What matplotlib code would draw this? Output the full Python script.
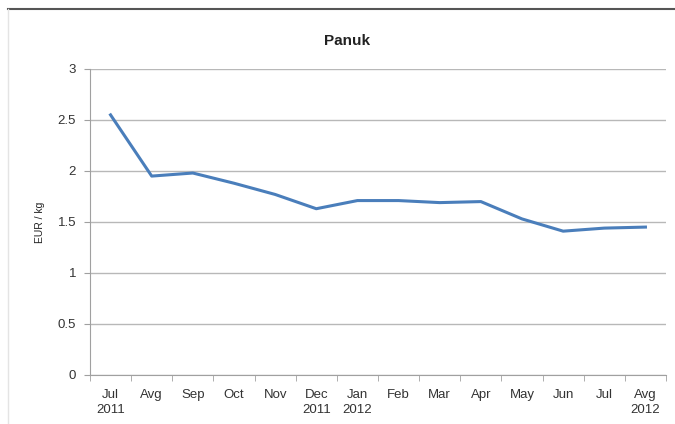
import numpy as np
import matplotlib
matplotlib.use("Agg")
import matplotlib.pyplot as plt
from matplotlib.lines import Line2D

# data
months = ["Jul\n2011", "Avg", "Sep", "Oct", "Nov", "Dec\n2011", "Jan\n2012",
          "Feb", "Mar", "Apr", "May", "Jun", "Jul", "Avg\n2012"]
price = [2.55, 1.95, 1.98, 1.88, 1.77, 1.63, 1.71,
         1.71, 1.69, 1.70, 1.53, 1.41, 1.44, 1.45]
yticks = [0, 0.5, 1, 1.5, 2, 2.5, 3]
ytick_labels = ["0", "0.5", "1", "1.5", "2", "2.5", "3"]

plt.rcParams['font.family'] = ['Liberation Sans', 'DejaVu Sans']

fig = plt.figure(figsize=(6.75, 4.24), dpi=100)
ax = fig.add_axes([0.1333, 0.1156, 0.8534, 0.7217])

x = np.arange(len(months))
ax.plot(x, price, color="#4a7ebb", lw=2.2, solid_joinstyle="round")

ax.set_xlim(-0.5, len(months) - 0.5)
ax.set_ylim(0, 3)
ax.set_yticks(yticks)
ax.set_yticklabels(ytick_labels)
ax.set_xticks(x)
ax.set_xticklabels(months, linespacing=1.35)
# tick marks sit between the categories
ax.set_xticks(np.arange(-0.5, len(months) + 0.5, 1), minor=True)
ax.tick_params(axis="x", which="major", length=0, pad=10)
ax.tick_params(axis="x", which="minor", length=4, color="#a0a0a0", direction="out")
ax.tick_params(axis="y", length=4, color="#a0a0a0", pad=6)
ax.tick_params(labelsize=9.5, labelcolor="#333333")

ax.grid(axis="y", color="#b8b8b8", lw=1)
ax.set_axisbelow(True)
for s in ["top", "right"]:
    ax.spines[s].set_visible(False)
for s in ["left", "bottom"]:
    ax.spines[s].set_color("#a0a0a0")

ax.set_ylabel("EUR / kg", fontsize=7.5, labelpad=9, color="#222222")
fig.text(0.514, 0.903, "Panuk", ha="center", va="center",
         fontsize=11, fontweight="bold", color="#222222")

# frame lines of the chart box
fig.add_artist(Line2D([0.012, 1.0], [0.979, 0.979], color="#555555", lw=1.5))
fig.add_artist(Line2D([0.012, 0.012], [0.0, 0.979], color="#e4e4e4", lw=1))

fig.savefig("out.png", dpi=100)
